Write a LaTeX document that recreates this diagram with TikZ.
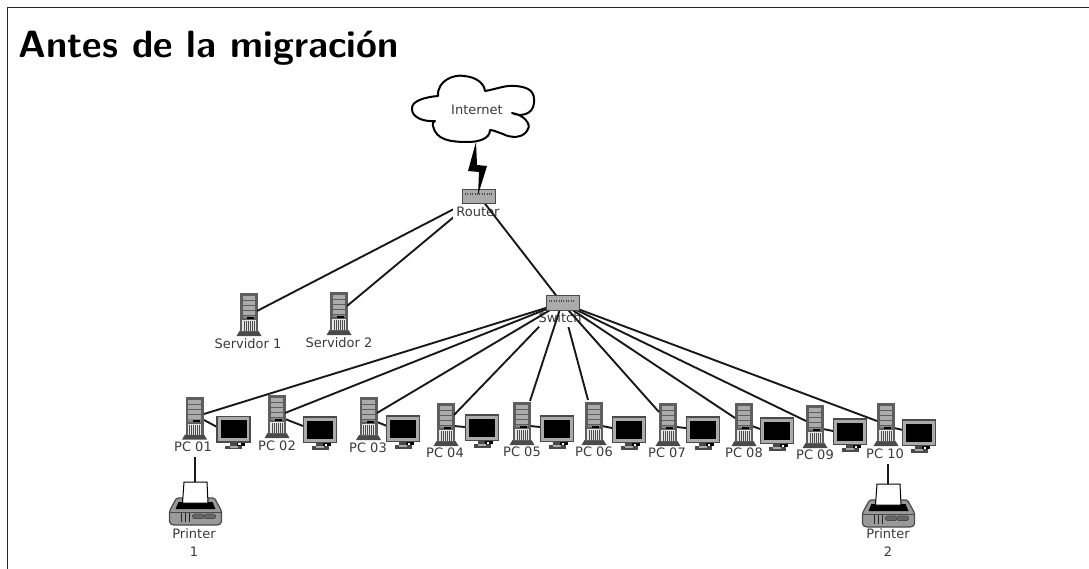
\documentclass[tikz,border=0pt]{standalone}
\usepackage{fontspec}
\newfontfamily\lblfont{DejaVu Sans}
\definecolor{ink}{HTML}{3A3A3A}
\definecolor{bay}{HTML}{ABABAB}
\definecolor{shell}{HTML}{5E5E5E}
\definecolor{edgeg}{HTML}{4A4A4A}
\tikzset{
  link/.style={line width=1.9pt,black!90},
  lab/.style={font=\lblfont\fontsize{13}{14}\selectfont,text=ink,inner sep=0pt,align=center},
  netbox/.style={draw=edgeg,fill=bay,line width=0.9pt,minimum width=33pt,minimum height=14.5pt,inner sep=0pt},
  tower/.pic={
    \fill[edgeg] (-9.5,38) -- (9.5,38) -- (12.5,43) -- (-12.5,43) -- cycle;
    \fill[shell] (-9,0) rectangle (9,38.5);
    \foreach \yy in {3,8,13,18}{\fill[bay] (-6.4,\yy) rectangle (6.4,\yy+4);}
    \fill[bay!80!black] (-6.4,22.5) rectangle (6.4,25);
    \fill[black] (-2,23.5) rectangle (5,25.5);
    \fill[white!90!black] (-6.8,27) rectangle (6.8,38);
    \foreach \xx in {-5,-3,-1,1,3,5}{\draw[edgeg,line width=1pt] (\xx,28) -- (\xx,38);}
  },
  monitor/.pic={
    \fill[edgeg] (-4,25) rectangle (4,29);
    \fill[edgeg] (-8.5,29) -- (8.5,29) -- (8.5,32.5) -- (-8.5,32.5) -- cycle;
    \fill[bay] (-4,29) rectangle (4,31);
    \fill[black] (3,26) rectangle (11,29);
    \fill[white] (4.5,26.5) rectangle (7,28.5);
    \draw[edgeg,fill=bay,line width=1.1pt] (-16.5,0) rectangle (16.5,25.5);
    \fill[black] (-13,3.5) rectangle (13,21.5);
  },
  printer/.pic={
    \draw[edgeg,fill=bay!90!black,line width=1.2pt,rounded corners=1.5pt]
      (-19,16) -- (19,16) -- (26,29) -- (26,41) -- (23,43) -- (-23,43) -- (-26,41) -- (-26,29) -- cycle;
    \draw[edgeg,line width=0.8pt] (-26,30) -- (26,30);
    \fill[black] (-17,20) -- (17,20) -- (20,27) -- (-20,27) -- cycle;
    \draw[black,fill=white,line width=1pt] (-11.5,0) -- (11.5,0) -- (12.5,21) -- (-13,21) -- cycle;
    \foreach \xx in {-14,-10,-6}{\draw[black!85,line width=1.4pt] (\xx,31) -- (\xx,40);}
    \draw[edgeg,fill=bay!60!black,line width=0.7pt,rounded corners=1.5pt] (-3,32) rectangle (8,36.5);
    \draw[edgeg,fill=bay!60!black,line width=0.7pt,rounded corners=1.5pt] (8,32) rectangle (20,36.5);
  }
}
\begin{document}
\begin{tikzpicture}[x=1pt,y=-1pt]
\useasboundingbox (0,0) rectangle (1089,569);
% frame
\fill[white] (0,0) rectangle (1089,569);
\draw[black!85,line width=1pt] (7.5,569) -- (7.5,7.5) -- (1089,7.5);
\node[anchor=base west,inner sep=0pt,font=\sffamily\bfseries\fontsize{38}{42}\selectfont,text=black] (title) at (18,58) {Antes de la migración};
% cloud
\draw[black,line width=2pt,line join=round,fill=white]
  (438,96) .. controls (437,80) and (455,74) .. (464,76)
  .. controls (476,77) and (484,83) .. (485,91)
  .. controls (497,89) and (505,85) .. (515,86)
  .. controls (530,87) and (535,92) .. (534,103)
  .. controls (533,115) and (520,117) .. (512,113)
  .. controls (525,115) and (531,125) .. (528,129)
  .. controls (524,139) and (510,138) .. (503,134)
  .. controls (497,132) and (493,130) .. (490,130)
  .. controls (490,139) and (478,142) .. (468,142)
  .. controls (450,142) and (436,140) .. (433,126)
  .. controls (432,123) and (434,121) .. (435,121)
  .. controls (425,122) and (411,118) .. (412,108)
  .. controls (412,101) and (425,97) .. (438,96) -- cycle;
\node[lab] (internet) at (477,110) {Internet};
\coordinate (cloudb) at (476,142);
\coordinate (rt) at (479,196);
\coordinate (sw) at (562,303);
% servers
\pic at (249,293) {tower};
\pic at (339,292) {tower};
\coordinate (srv1) at (257,311);
\coordinate (srv2) at (347,306);
\node[lab] (srv1lab) at (248,344) {Servidor 1};
\node[lab] (srv2lab) at (339,343) {Servidor 2};
\draw[link] (srv1) -- (rt);
\draw[link] (srv2) -- (rt);
\node[lab,fill=white,minimum width=50pt,minimum height=16pt] (routerlab) at (478,212) {Router};
\draw[link] (rt) -- (sw);
\node[netbox] (router) at (479,196.5) {};
\draw[edgeg,line width=1.2pt,dash pattern=on 1pt off 1.4pt] (465,194) -- (492,194);
% bolt
\fill[black] (cloudb) -- (468,171) -- (479,172) -- (478,195) -- (487,166) -- (477,165) -- cycle;
% PC units
\foreach \n/\tx/\ty/\mx/\my/\lx/\ly/\sx/\sy/\ax/\ay/\bx/\by/\nm in {
  01/194.5/396.5/233.5/416.5/193/447/204/414/204/420/217/427/PC 01,
  02/277/395/320/417/277/446/285/413/285/419/303/426/PC 02,
  03/368.5/397/403/416/368/448/377/413/377/422/387/426/PC 03,
  04/446/403/482/415/445/453/454/415/454/426/465/427/PC 04,
  05/522/402/557/416/522/452/530/401/530/426/540/427/PC 05,
  06/594/402/629/417/594/452/588/400/602/426/612/428/PC 06,
  07/668/403/703/417/667/453/659/412/676/427/686/428/PC 07,
  08/744/403/777/418/744/453/735/418/752/426/760/429/PC 08,
  09/815/405/850/419/815/455/806/421/823/429/833/431/PC 09,
  10/886/403/919/420/885/454/877/421/894/428/903/430/PC 10}{
  \coordinate (sp\n) at (\sx,\sy);
  \coordinate (a\n) at (\ax,\ay);
  \coordinate (b\n) at (\bx,\by);
  \draw[link] (a\n) -- (b\n);
  \pic at (\tx,\ty) {tower};
  \pic at (\mx,\my) {monitor};
  \node[lab] (lab\n) at (\lx,\ly) {\nm};
}
% switch lines
\draw[link] (sp04) -- (sw);
\draw[link] (sp06) -- (sw);
\node[lab,fill=white,minimum width=40pt,minimum height=18pt] (switchlab) at (560,318) {Switch};
\foreach \n in {01,02,03,05,07,08,09,10}{\draw[link] (sp\n) -- (sw);}
\node[netbox] (switch) at (562.5,303) {};
\draw[edgeg,line width=1.2pt,dash pattern=on 1pt off 1.4pt] (549,301) -- (575,301);
% printers
\coordinate (p1a) at (195,457);
\coordinate (p1b) at (195,482);
\coordinate (p2a) at (888,464);
\coordinate (p2b) at (888,484);
\draw[link] (p1a) -- (p1b);
\draw[link] (p2a) -- (p2b);
\pic at (195.5,482) {printer};
\pic at (888.5,484) {printer};
\node[lab] (pr1) at (194,543) {Printer\\[4pt]1};
\node[lab] (pr2) at (888,543) {Printer\\[4pt]2};
\end{tikzpicture}
\end{document}
